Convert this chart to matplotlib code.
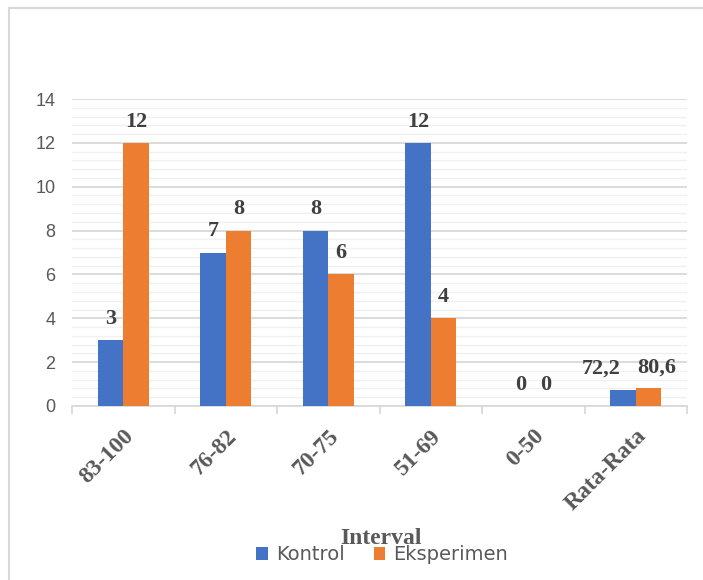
import numpy as np
import matplotlib.pyplot as plt
from matplotlib.ticker import MultipleLocator
from matplotlib.patches import Rectangle

categories = ['83-100', '76-82', '70-75', '51-69', '0-50', 'Rata-Rata']
kontrol = [3, 7, 8, 12, 0, 0.722]
eksperimen = [12, 8, 6, 4, 0, 0.806]
kontrol_labels = ['3', '7', '8', '12', '0', '72,2']
eksperimen_labels = ['12', '8', '6', '4', '0', '80,6']

blue = '#4472C4'
orange = '#ED7D31'
gray = '#595959'

fig = plt.figure(figsize=(7.03, 5.8), dpi=100)
# chart border
fig.patches.append(Rectangle((9/703, -0.1), 1.2, 1 - 8/580 + 0.1, transform=fig.transFigure,
                             fill=False, edgecolor='#D9D9D9', linewidth=1.5))
ax = fig.add_axes([72/703, 1 - 406/580, 615/703, 307/580])

x = np.arange(len(categories))
w = 0.25
b1 = ax.bar(x - w/2, kontrol, w, color=blue, label='Kontrol', zorder=3)
b2 = ax.bar(x + w/2, eksperimen, w, color=orange, label='Eksperimen', zorder=3)

lab_font = dict(family='Liberation Serif', fontweight='bold', fontsize=16, color='#404040')
for bars, labs, shift in [(b1, kontrol_labels, -16), (b2, eksperimen_labels, 6)]:
    for i, (b, t) in enumerate(zip(bars, labs)):
        dx = shift if i == len(labs) - 1 else 0
        ax.annotate(t, (b.get_x() + b.get_width()/2, b.get_height()),
                    xytext=(dx, 8), textcoords='offset points', ha='center', va='bottom', **lab_font)

ax.set_xlim(-0.5, len(categories) - 0.5)
ax.set_ylim(0, 14)
ax.yaxis.set_major_locator(MultipleLocator(2))
ax.yaxis.set_minor_locator(MultipleLocator(0.4))
ax.grid(axis='y', which='major', color='#D9D9D9', linewidth=1.3, zorder=0)
ax.grid(axis='y', which='minor', color='#F0F0F0', linewidth=1.0, zorder=0)
for s in ['top', 'right', 'left']:
    ax.spines[s].set_visible(False)
ax.spines['bottom'].set_color('#D9D9D9')
ax.spines['bottom'].set_linewidth(1.3)

ax.set_xticks(np.arange(-0.5, len(categories), 1), minor=True)
ax.set_xticks(x)
ax.set_xticklabels(categories, rotation=45, ha='right', rotation_mode='anchor',
                   family='Liberation Serif', fontweight='bold', fontsize=17, color=gray)
ax.tick_params(axis='x', which='major', length=0, pad=14)
ax.tick_params(axis='x', which='minor', length=6, color='#D9D9D9', width=1.3)
ax.tick_params(axis='y', which='both', length=0, labelsize=13, labelcolor=gray, pad=12)
for t in ax.get_yticklabels():
    t.set_family('Liberation Sans')

fig.text(381/703, 1 - 538/580, 'Interval', ha='center', va='center',
         family='Liberation Serif', fontweight='bold', fontsize=17, color=gray)
fig.legend(handles=[b1, b2], loc='center', bbox_to_anchor=(382/703, 1 - 555/580), ncol=2,
           frameon=False, fontsize=14, handlelength=0.6, handleheight=0.6,
           columnspacing=1.5, handletextpad=0.4, labelcolor=gray)

fig.savefig('out.png', dpi=100)
